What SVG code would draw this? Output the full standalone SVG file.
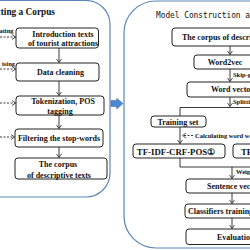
<svg xmlns="http://www.w3.org/2000/svg" width="250" height="250" viewBox="0 0 250 250">
<defs>
<marker id="ah" markerWidth="6" markerHeight="6" refX="4" refY="3" orient="auto" markerUnits="userSpaceOnUse">
<path d="M0.5,0.5 L4,3 L0.5,5.5" fill="none" stroke="#222" stroke-width="0.8"/>
</marker>
</defs>
<style>
.panel{fill:#fff;stroke:#5a86b8;stroke-width:1.2}
.box{fill:#fff;stroke:#222;stroke-width:1}
.t{font-family:"Liberation Serif",serif;font-weight:bold;font-size:8px;fill:#111}
.c{text-anchor:middle}
.lb{font-family:"Liberation Serif",serif;font-weight:bold;font-size:6.5px;fill:#111}
.ln{fill:none;stroke:#222;stroke-width:0.9}
.ar{fill:none;stroke:#222;stroke-width:0.9;marker-end:url(#ah)}
.da{fill:none;stroke:#222;stroke-width:0.9;stroke-dasharray:2 1.5;marker-end:url(#ah)}
</style>
<rect width="250" height="250" fill="#fff"/>
<g id="panel-left">
<rect class="panel" x="-40" y="0.5" width="150" height="196.5" rx="24"/>
<text class="t" x="55" y="15" text-anchor="end" style="font-size:9.3px">Collecting a Corpus</text>
</g>
<g id="panel-right">
<rect class="panel" x="124" y="1" width="200" height="247" rx="32"/>
<text x="156" y="17.5" font-family="'DejaVu Sans Mono','Liberation Mono',monospace" font-size="9.5" fill="#111" textLength="155" lengthAdjust="spacingAndGlyphs">Model Construction and Evaluation</text>
</g>
<g id="blue-arrow">
<path d="M111,100.5 L116.7,100.5 L116.7,98.3 L123,103.5 L116.7,109 L116.7,106.5 L111,106.5 Z" fill="#4a8ad4" stroke="#3a6fae" stroke-width="0.6"/>
</g>
<g id="connectors">
<path class="ar" d="M59,48 V62.5"/>
<path class="ar" d="M59,81 V95.5"/>
<path class="ar" d="M59,115 V128.5"/>
<path class="ar" d="M59,147 V157.5"/>
<path class="da" d="M0,37 H15.5"/>
<path class="da" d="M0,69 H15.5"/>
<path class="da" d="M0,103 H15.5"/>
<path class="da" d="M0,137 H14.5"/>
<path class="ar" d="M230,46 V54.5"/>
<path class="ar" d="M230,69 V81.5"/>
<path class="ar" d="M230,97 V106.5"/>
<path class="ln" d="M180,116 V107.5 H252"/>
<path class="ar" d="M180,127 V143.5"/>
<path class="da" d="M193,135.5 H182.5"/>
<path class="ln" d="M180,158 V167 H252"/>
<path class="ar" d="M232,167 V178.5"/>
<path class="ar" d="M232,193 V203.5"/>
<path class="ar" d="M232,218 V228.5"/>
<text class="lb" x="13.5" y="33" text-anchor="end">ating</text>
<text class="lb" x="15" y="66" text-anchor="end">ising</text>
<text class="lb" x="233" y="77">Skip-gram</text>
<text class="lb" x="233" y="104">Splitting</text>
<text class="lb" x="195" y="137.5">Calculating word weights</text>
<text class="lb" x="236" y="174">Weighting</text>
</g>
<g id="n-intro">
<rect class="box" x="16" y="28" width="82.5" height="20" rx="3"/>
<text class="t c" x="63" y="37">Introduction texts</text>
<text class="t c" x="63" y="46">of tourist attractions</text>
</g>
<g id="n-cleaning">
<rect class="box" x="16" y="63" width="83" height="18" rx="3"/>
<text class="t c" x="60.5" y="75">Data cleaning</text>
</g>
<g id="n-token">
<rect class="box" x="16" y="96" width="88" height="19" rx="3"/>
<text class="t c" x="63" y="104">Tokenization, POS</text>
<text class="t c" x="60" y="114">tagging</text>
</g>
<g id="n-filter">
<rect class="box" x="15" y="129" width="88" height="18" rx="3"/>
<text class="t c" x="59" y="141">Filtering the stop-words</text>
</g>
<g id="n-corpus">
<rect class="box" x="15" y="158" width="92" height="21" rx="3"/>
<text class="t c" x="58" y="167">The corpus</text>
<text class="t c" x="59" y="177.5">of descriptive texts</text>
</g>
<g id="n-corpus2">
<rect class="box" x="172" y="28" width="100" height="18" rx="3"/>
<text class="t" x="182" y="40">The corpus of descriptive texts</text>
</g>
<g id="n-word2vec">
<rect class="box" x="194" y="55" width="62" height="14" rx="3"/>
<text class="t c" x="225" y="65">Word2vec</text>
</g>
<g id="n-wordvec">
<rect class="box" x="187" y="82" width="90" height="15" rx="3"/>
<text class="t" x="211" y="92">Word vectors</text>
</g>
<g id="n-training">
<rect class="box" x="151" y="116" width="55" height="11" rx="3"/>
<text class="t c" x="178" y="125">Training set</text>
</g>
<g id="n-tfidf">
<rect class="box" x="133" y="144" width="92" height="14" rx="3"/>
<text class="t c" x="176" y="154.5" style="font-size:8.8px">TF-IDF-CRF-POS①</text>
</g>
<g id="n-t2">
<rect class="box" x="233" y="144" width="40" height="14" rx="3"/>
<text class="t" x="241" y="154.5" style="font-size:8.8px">TF-IDF</text>
</g>
<g id="n-sentence">
<rect class="box" x="186" y="179" width="90" height="14" rx="3"/>
<text class="t" x="207" y="189">Sentence vectors</text>
</g>
<g id="n-classifiers">
<rect class="box" x="185" y="204" width="90" height="14" rx="3"/>
<text class="t" x="188" y="214">Classifiers training</text>
</g>
<g id="n-eval">
<rect class="box" x="186" y="229" width="90" height="15.5" rx="3"/>
<text class="t" x="217" y="240">Evaluation</text>
</g>
</svg>
